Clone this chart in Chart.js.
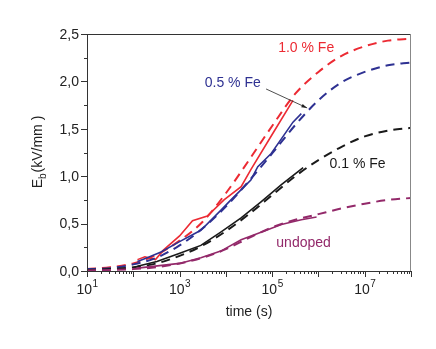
<!DOCTYPE html>
<html><head><meta charset="utf-8">
<script src="https://cdn.jsdelivr.net/npm/chart.js@4.4.1/dist/chart.umd.min.js"></script>
<style>html,body{margin:0;padding:0;background:#fff}#wrap{width:436px;height:349px;position:relative}</style>
</head><body><div id="wrap"><canvas id="c"></canvas></div>
<script>
// ---- data (time in s, E_b in kV/mm) ----
const fitTimes = [10, 31.6, 100, 316, 1000, 3162, 10000, 31623, 100000, 316228, 1000000, 3162278, 10000000, 31622777, 100000000];
const fit10Fe    = [0.02, 0.04, 0.08, 0.17, 0.32, 0.52, 0.82, 1.17, 1.53, 1.87, 2.10, 2.27, 2.37, 2.43, 2.45];
const fit05Fe    = [0.02, 0.03, 0.07, 0.14, 0.27, 0.45, 0.68, 0.95, 1.24, 1.54, 1.80, 1.99, 2.10, 2.17, 2.20];
const fit01Fe    = [0.01, 0.02, 0.04, 0.08, 0.16, 0.27, 0.42, 0.60, 0.80, 1.00, 1.17, 1.31, 1.42, 1.48, 1.51];
const fitUndoped = [0.005, 0.01, 0.02, 0.04, 0.08, 0.14, 0.23, 0.35, 0.46, 0.54, 0.60, 0.66, 0.71, 0.75, 0.77];

const exp10FeT = [123, 178, 302, 447, 1000, 1905, 3981, 9120, 21380, 34670, 100000, 281838];
const exp10FeE = [0.12, 0.15, 0.12, 0.22, 0.37, 0.53, 0.58, 0.75, 0.89, 1.07, 1.44, 1.80];
const exp05FeT = [123, 200, 398, 1000, 2884, 7762, 12882, 34670, 48978, 95499, 281838, 426580];
const exp05FeE = [0.10, 0.14, 0.20, 0.31, 0.43, 0.64, 0.75, 0.96, 1.10, 1.24, 1.57, 1.66];
const exp01FeT = [123, 324, 1047, 2884, 7762, 21380, 57544, 158489, 467735];
const exp01FeE = [0.05, 0.10, 0.19, 0.27, 0.41, 0.56, 0.73, 0.91, 1.09];
const expUndT  = [123, 1000, 2884, 7762, 21380, 57544, 158489, 426580, 912011];
const expUndE  = [0.03, 0.08, 0.14, 0.21, 0.33, 0.41, 0.49, 0.54, 0.57];

const yTickValues = [0, 0.5, 1.0, 1.5, 2.0, 2.5];
const yTickLabels = ['0,0', '0,5', '1,0', '1,5', '2,0', '2,5'];
const xTickValues = [1e1, 1e3, 1e5, 1e7];
const xTickBases = ['10', '10', '10', '10'];
const xTickExps = ['1', '3', '5', '7'];

const seriesNames = ['1.0 % Fe', '0.5 % Fe', '0.1 % Fe', 'undoped'];
const colors = ['#ec2a33', '#2e3192', '#1a1a1a', '#93296a'];
// annotation anchors in data coordinates [time, E]
const labelAnchors = [[1.35e5, 2.31], [3.5e3, 1.94], [1.74e6, 1.09], [1.23e5, 0.25]];
const arrowFrom = [7.4e4, 1.92], arrowTo = [5.7e5, 1.72];

const zip = (t, v) => t.map((x, i) => ({x: x, y: v[i]}));
const FONT = '"Liberation Sans", Arial, Helvetica, sans-serif';

const fits = [fit10Fe, fit05Fe, fit01Fe, fitUndoped];
const exps = [[exp10FeT, exp10FeE], [exp05FeT, exp05FeE], [exp01FeT, exp01FeE], [expUndT, expUndE]];
const datasets = [];
for (let i = 3; i >= 0; i--) {
  datasets.push({label: seriesNames[i] + ' fit', data: zip(fitTimes, fits[i]), borderColor: colors[i],
    borderWidth: 2, borderDash: [9, 6], pointRadius: 0, cubicInterpolationMode: 'monotone', fill: false});
  datasets.push({label: seriesNames[i], data: zip(exps[i][0], exps[i][1]), borderColor: colors[i],
    borderWidth: 1.6, pointRadius: 0, tension: 0, fill: false});
}

const decorPlugin = {
  id: 'decor',
  afterDraw(chart) {
    const {ctx, chartArea: a, scales: {x, y}} = chart;
    ctx.save();
    // frame
    ctx.lineWidth = 1;
    ctx.strokeStyle = '#333';
    ctx.beginPath(); ctx.moveTo(a.left, a.top + 0.5); ctx.lineTo(a.right, a.top + 0.5); ctx.stroke();
    ctx.beginPath(); ctx.moveTo(a.left + 0.5, a.top); ctx.lineTo(a.left + 0.5, a.bottom); ctx.stroke();
    ctx.beginPath(); ctx.moveTo(a.left, a.bottom + 0.5); ctx.lineTo(a.right, a.bottom + 0.5); ctx.stroke();
    ctx.strokeStyle = '#888';
    ctx.beginPath(); ctx.moveTo(a.right - 0.5, a.top); ctx.lineTo(a.right - 0.5, a.bottom); ctx.stroke();
    // y ticks
    ctx.strokeStyle = '#333';
    for (let k = 0; k <= 10; k++) {
      const py = Math.round(y.getPixelForValue(k * 0.25)) + 0.5;
      const len = k % 2 === 0 ? 6 : 3;
      ctx.beginPath(); ctx.moveTo(a.left, py); ctx.lineTo(a.left - len, py); ctx.stroke();
    }
    // x ticks
    for (let d = 1; d <= 8; d++) {
      for (let m = 1; m <= 9; m++) {
        if (d === 8 && m > 1) break;
        const v = m * Math.pow(10, d);
        const px = Math.round(x.getPixelForValue(v)) + 0.5;
        const len = m === 1 ? 6 : 3;
        ctx.beginPath(); ctx.moveTo(px, a.bottom); ctx.lineTo(px, a.bottom + len); ctx.stroke();
      }
    }
    // y tick labels
    ctx.fillStyle = '#222';
    ctx.font = '14px ' + FONT;
    ctx.textAlign = 'right'; ctx.textBaseline = 'middle';
    yTickValues.forEach((v, i) => ctx.fillText(yTickLabels[i], a.left - 8, y.getPixelForValue(v) + 1));
    // x tick labels
    ctx.textBaseline = 'alphabetic'; ctx.textAlign = 'left';
    xTickValues.forEach((v, i) => {
      ctx.font = '14px ' + FONT;
      const wb = ctx.measureText(xTickBases[i]).width;
      ctx.font = '10px ' + FONT;
      const we = ctx.measureText(xTickExps[i]).width;
      const x0 = x.getPixelForValue(v) - (wb + we) / 2;
      ctx.font = '14px ' + FONT;
      ctx.fillText(xTickBases[i], x0, a.bottom + 23);
      ctx.font = '10px ' + FONT;
      ctx.fillText(xTickExps[i], x0 + wb + 0.5, a.bottom + 16);
    });
    // x title
    ctx.font = '14px ' + FONT; ctx.textAlign = 'center';
    ctx.fillText('time (s)', (a.left + a.right) / 2, a.bottom + 45);
    // y title with subscript
    ctx.save();
    ctx.translate(42, (a.top + a.bottom) / 2);
    ctx.rotate(-Math.PI / 2);
    ctx.textAlign = 'left';
    ctx.font = '14px ' + FONT; const w1 = ctx.measureText('E').width;
    ctx.font = '10px ' + FONT; const w2 = ctx.measureText('b').width;
    ctx.font = '14px ' + FONT; const w3 = ctx.measureText('(kV/mm )').width;
    let sx = -(w1 + w2 + w3) / 2;
    ctx.font = '14px ' + FONT; ctx.fillText('E', sx, 0); sx += w1;
    ctx.font = '10px ' + FONT; ctx.fillText('b', sx, 4); sx += w2 + 1;
    ctx.font = '14px ' + FONT; ctx.fillText('(kV/mm )', sx, 0);
    ctx.restore();
    // series labels
    ctx.textAlign = 'left'; ctx.font = '14px ' + FONT;
    labelAnchors.forEach((p, i) => {
      ctx.fillStyle = colors[i];
      ctx.fillText(seriesNames[i], x.getPixelForValue(p[0]), y.getPixelForValue(p[1]));
    });
    // arrow
    const ax0 = x.getPixelForValue(arrowFrom[0]), ay0 = y.getPixelForValue(arrowFrom[1]);
    const ax1 = x.getPixelForValue(arrowTo[0]), ay1 = y.getPixelForValue(arrowTo[1]);
    ctx.strokeStyle = '#222'; ctx.fillStyle = '#222'; ctx.lineWidth = 0.8;
    ctx.beginPath(); ctx.moveTo(ax0, ay0); ctx.lineTo(ax1, ay1); ctx.stroke();
    const ang = Math.atan2(ay1 - ay0, ax1 - ax0);
    ctx.beginPath(); ctx.moveTo(ax1, ay1);
    ctx.lineTo(ax1 - 6 * Math.cos(ang - 0.3), ay1 - 6 * Math.sin(ang - 0.3));
    ctx.lineTo(ax1 - 6 * Math.cos(ang + 0.3), ay1 - 6 * Math.sin(ang + 0.3));
    ctx.closePath(); ctx.fill();
    ctx.restore();
  }
};

new Chart(document.getElementById('c'), {
  type: 'line',
  data: {datasets},
  options: {
    responsive: true, maintainAspectRatio: false, animation: false,
    layout: {padding: {top: 34, right: 25, left: 0, bottom: 0}},
    plugins: {legend: {display: false}, tooltip: {enabled: false}},
    scales: {
      x: {type: 'logarithmic', min: 10, max: 1e8,
        grid: {display: false}, border: {display: false}, ticks: {display: false},
        afterFit(s) { s.height = 78; }},
      y: {type: 'linear', min: 0, max: 2.5,
        grid: {display: false}, border: {display: false}, ticks: {display: false},
        afterFit(s) { s.width = 87; }}
    }
  },
  plugins: [decorPlugin]
});
</script>
</body></html>
